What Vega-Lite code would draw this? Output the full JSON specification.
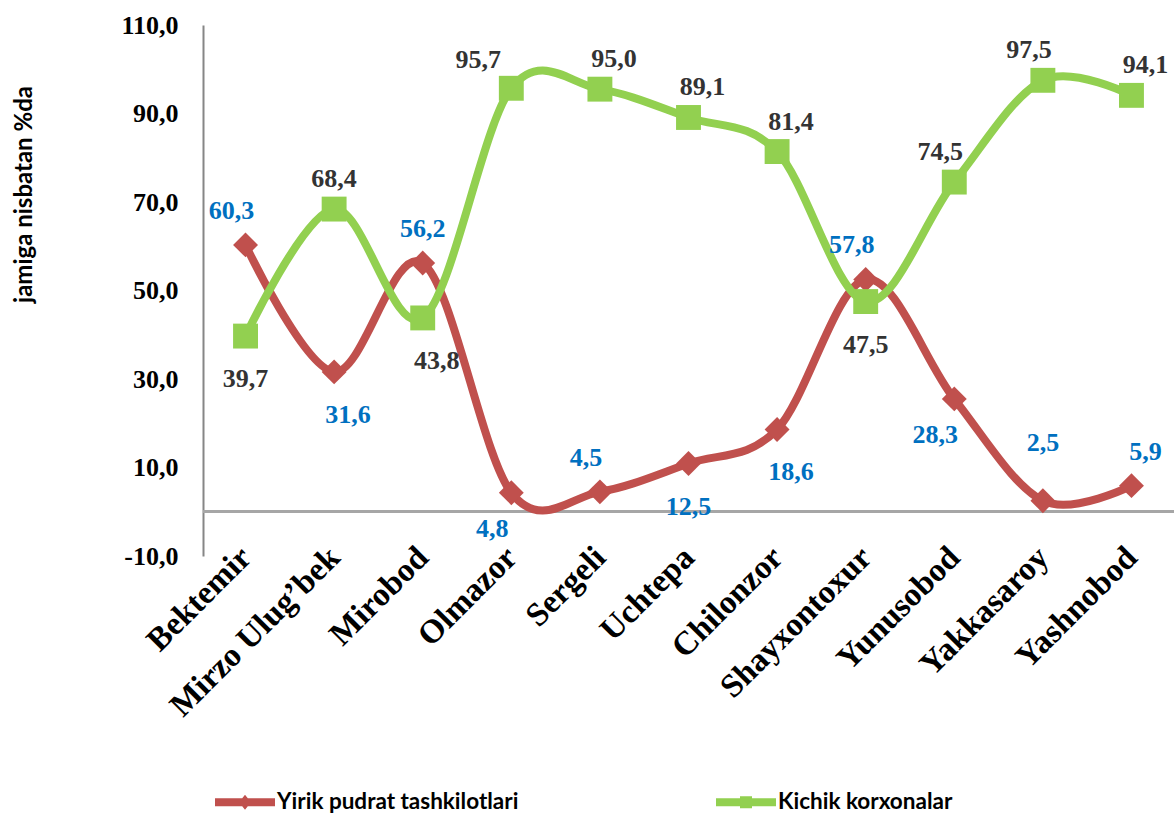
{
  "$schema": "https://vega.github.io/schema/vega-lite/v6.json",
  "width": 971,
  "height": 531,
  "autosize": {"type": "none"},
  "padding": {"left": 203, "top": 25, "right": 0, "bottom": 260},
  "background": "white",
  "config": {
    "view": {"stroke": null},
    "axis": {"grid": false}
  },
  "data": {
    "values": [
      {"district": "Bektemir", "series": "Yirik pudrat tashkilotlari", "value": 60.3, "label": "60,3", "pos": "NW"},
      {"district": "Mirzo Ulug’bek", "series": "Yirik pudrat tashkilotlari", "value": 31.6, "label": "31,6", "pos": "SE"},
      {"district": "Mirobod", "series": "Yirik pudrat tashkilotlari", "value": 56.2, "label": "56,2", "pos": "N"},
      {"district": "Olmazor", "series": "Yirik pudrat tashkilotlari", "value": 4.3, "label": "4,8", "pos": "SW"},
      {"district": "Sergeli", "series": "Yirik pudrat tashkilotlari", "value": 4.5, "label": "4,5", "pos": "NW"},
      {"district": "Uchtepa", "series": "Yirik pudrat tashkilotlari", "value": 10.9, "label": "12,5", "pos": "S"},
      {"district": "Chilonzor", "series": "Yirik pudrat tashkilotlari", "value": 18.6, "label": "18,6", "pos": "SE"},
      {"district": "Shayxontoxur", "series": "Yirik pudrat tashkilotlari", "value": 52.5, "label": "57,8", "pos": "NW"},
      {"district": "Yunusobod", "series": "Yirik pudrat tashkilotlari", "value": 25.5, "label": "28,3", "pos": "SW"},
      {"district": "Yakkasaroy", "series": "Yirik pudrat tashkilotlari", "value": 2.5, "label": "2,5", "pos": "NN"},
      {"district": "Yashnobod", "series": "Yirik pudrat tashkilotlari", "value": 5.9, "label": "5,9", "pos": "NE"},
      {"district": "Bektemir", "series": "Kichik korxonalar", "value": 39.7, "label": "39,7", "pos": "S"},
      {"district": "Mirzo Ulug’bek", "series": "Kichik korxonalar", "value": 68.4, "label": "68,4", "pos": "N"},
      {"district": "Mirobod", "series": "Kichik korxonalar", "value": 43.8, "label": "43,8", "pos": "SE"},
      {"district": "Olmazor", "series": "Kichik korxonalar", "value": 95.7, "label": "95,7", "pos": "W"},
      {"district": "Sergeli", "series": "Kichik korxonalar", "value": 95.5, "label": "95,0", "pos": "NE"},
      {"district": "Uchtepa", "series": "Kichik korxonalar", "value": 89.1, "label": "89,1", "pos": "NE"},
      {"district": "Chilonzor", "series": "Kichik korxonalar", "value": 81.4, "label": "81,4", "pos": "NE"},
      {"district": "Shayxontoxur", "series": "Kichik korxonalar", "value": 47.5, "label": "47,5", "pos": "S"},
      {"district": "Yunusobod", "series": "Kichik korxonalar", "value": 74.5, "label": "74,5", "pos": "NW"},
      {"district": "Yakkasaroy", "series": "Kichik korxonalar", "value": 97.5, "label": "97,5", "pos": "NW"},
      {"district": "Yashnobod", "series": "Kichik korxonalar", "value": 94.1, "label": "94,1", "pos": "NE"}
    ]
  },
  "encoding": {
    "x": {
      "field": "district",
      "type": "nominal",
      "sort": null,
      "scale": {"type": "point", "padding": 0.48},
      "axis": {
        "title": null,
        "domain": false,
        "ticks": false,
        "labelAngle": -45,
        "labelAlign": "right",
        "labelBaseline": "middle",
        "labelPadding": -4,
        "labelFont": "Times New Roman, Liberation Serif, serif",
        "labelFontWeight": "bold",
        "labelFontSize": 33,
        "labelColor": "black",
        "labelLimit": 400
      }
    },
    "y": {
      "field": "value",
      "type": "quantitative",
      "scale": {"domain": [-10, 110], "nice": false, "zero": false},
      "axis": {
        "values": [-10, 10, 30, 50, 70, 90, 110],
        "labelExpr": "replace(replace(format(datum.value, '.1f'), '.', ','), '−', '-')",
        "title": "jamiga nisbatan %da",
        "titleFont": "Lato",
        "titleFontWeight": "bold",
        "titleFontSize": 24,
        "titleColor": "black",
        "titlePadding": 84,
        "titleY": 169,
        "domainColor": "#868686",
        "domainWidth": 2,
        "ticks": false,
        "labelPadding": 25,
        "labelFont": "Times New Roman, Liberation Serif, serif",
        "labelFontWeight": "bold",
        "labelFontSize": 26,
        "labelColor": "black"
      }
    },
    "color": {
      "field": "series",
      "type": "nominal",
      "sort": ["Yirik pudrat tashkilotlari", "Kichik korxonalar"],
      "scale": {
        "domain": ["Yirik pudrat tashkilotlari", "Kichik korxonalar"],
        "range": ["#C0504D", "#92D050"]
      },
      "legend": {
        "title": null,
        "orient": "none",
        "legendX": 12,
        "legendY": 747,
        "direction": "horizontal",
        "columnPadding": 197,
        "labelFont": "Lato",
        "labelFontWeight": "bold",
        "labelFontSize": 22.5,
        "labelColor": "black",
        "labelOffset": 2,
        "labelLimit": 400,
        "symbolSize": 3600,
        "symbolStrokeWidth": 0,
        "symbolType": "M-1,-0.13H1V0.13H-1Z M-0.2,-0.2H0.2V0.2H-0.2Z",
        "encode": {
          "symbols": {
            "update": {
              "shape": {"signal": "datum.value == 'Yirik pudrat tashkilotlari' ? 'M-1,-0.13H1V0.13H-1Z M0,-0.25L0.2,0L0,0.25L-0.2,0Z' : 'M-1,-0.13H1V0.13H-1Z M-0.2,-0.2H0.2V0.2H-0.2Z'"},
              "size": {"value": 3600},
              "fill": {"scale": "color", "field": "value"},
              "fillOpacity": {"value": 1},
              "strokeWidth": {"value": 0}
            }
          }
        }
      }
    }
  },
  "layer": [
    {
      "mark": {"type": "rule", "color": "#A6A6A6", "strokeWidth": 2.5},
      "encoding": {"y": {"datum": 0}, "x": null, "color": null}
    },
    {
      "mark": {"type": "line", "interpolate": "cardinal", "strokeWidth": 8, "strokeCap": "round"},
      "encoding": {"detail": {"field": "series"}}
    },
    {
      "transform": [{"filter": "datum.series == 'Yirik pudrat tashkilotlari'"}],
      "mark": {"type": "point", "filled": true, "opacity": 1, "size": 620, "shape": "diamond"}
    },
    {
      "transform": [{"filter": "datum.series == 'Kichik korxonalar'"}],
      "mark": {"type": "point", "filled": true, "opacity": 1, "size": 620, "shape": "square"}
    },
    {
      "transform": [{"filter": "datum.series == 'Yirik pudrat tashkilotlari'"}],
      "mark": {
        "type": "text",
        "font": "Times New Roman, Liberation Serif, serif",
        "fontWeight": "bold",
        "fontSize": 26,
        "baseline": "middle",
        "align": "center",
        "dx": {"expr": "datum.pos == 'NE' || datum.pos == 'SE' ? 14 : datum.pos == 'NW' ? -14 : datum.pos == 'SW' ? -19 : datum.pos == 'W' ? -33 : 0"},
        "dy": {"expr": "datum.pos == 'S' || datum.pos == 'SE' ? 43 : datum.pos == 'SW' ? 36 : datum.pos == 'W' ? -28 : datum.pos == 'NN' ? -58 : -34"}
      },
      "encoding": {"text": {"field": "label"}, "color": {"value": "#0070C0"}}
    },
    {
      "transform": [{"filter": "datum.series == 'Kichik korxonalar'"}],
      "mark": {
        "type": "text",
        "font": "Times New Roman, Liberation Serif, serif",
        "fontWeight": "bold",
        "fontSize": 26,
        "baseline": "middle",
        "align": "center",
        "dx": {"expr": "datum.pos == 'NE' || datum.pos == 'SE' ? 14 : datum.pos == 'NW' ? -14 : datum.pos == 'SW' ? -19 : datum.pos == 'W' ? -33 : 0"},
        "dy": {"expr": "datum.pos == 'S' || datum.pos == 'SE' ? 43 : datum.pos == 'SW' ? 36 : datum.pos == 'W' ? -28 : datum.pos == 'NN' ? -58 : -30"}
      },
      "encoding": {"text": {"field": "label"}, "color": {"value": "#333333"}}
    }
  ]
}
